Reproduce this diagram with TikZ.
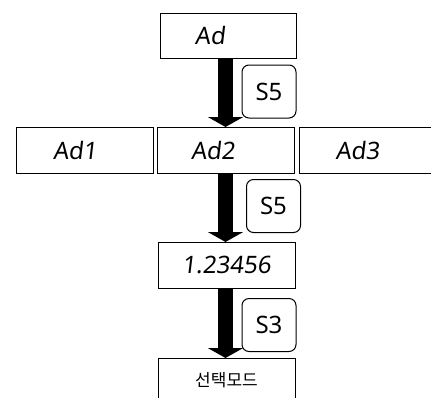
\documentclass[tikz,border=0pt]{standalone}
\usepackage{fontspec}
\setmainfont{Noto Sans}
\newfontfamily\segfont{Noto Sans}[FakeSlant=0.12]
\newfontfamily\krfont{Noto Sans CJK KR}
\usetikzlibrary{arrows.meta}
\begin{document}
\begin{tikzpicture}[x=1pt,y=-1pt,
  box/.style={draw,line width=1pt,minimum width=137pt,minimum height=46pt,inner sep=0pt,anchor=north west},
  seg/.style={inner sep=0pt,font=\segfont\fontsize{24}{28}\selectfont},
  btn/.style={draw,line width=1pt,rounded corners=7pt,minimum width=54pt,minimum height=53pt,inner sep=0pt,font=\fontsize{24}{28}\selectfont},
  bigarrow/.style={line width=15pt,-{Triangle[width=35pt,length=10pt]}},
  kr/.style={inner sep=0pt,font=\krfont\fontsize{17}{20}\selectfont}]
\useasboundingbox (0,0) rectangle (431,397);
\clip (0,0) rectangle (431,397);
% boxes
\node[box,minimum width=136pt,minimum height=45pt] (ad) at (160,13) {};
\node[box] (ad1) at (16,127) {};
\node[box] (ad2) at (157,127) {};
\node[box] (ad3) at (299,127) {};
\node[box] (num) at (158,242) {};
\node[box,minimum height=60pt] (mode) at (158,358) {};
% texts
\node[seg] (adt) at (210,35.5) {Ad};
\node[seg] (ad1t) at (75,150) {Ad1};
\node[seg] (ad2t) at (213,150) {Ad2};
\node[seg] (ad3t) at (357.5,150) {Ad3};
\node[seg] (numt) at (226.5,265) {1.23456};
\node[kr] (modet) at (226.5,380) {선택모드};
% buttons
\node[btn] (b1) at (269,91.5) {S5};
\node[btn] (b2) at (273.5,206) {S5};
\node[btn] (b3) at (269,325) {S3};
% arrows
\draw[bigarrow] (225.5,0 |- ad.south) -- (225.5,0 |- ad2.north);
\draw[bigarrow] (225.5,0 |- ad2.south) -- (225.5,0 |- num.north);
\draw[bigarrow] (225.5,0 |- num.south) -- (225.5,0 |- mode.north);
\end{tikzpicture}
\end{document}
